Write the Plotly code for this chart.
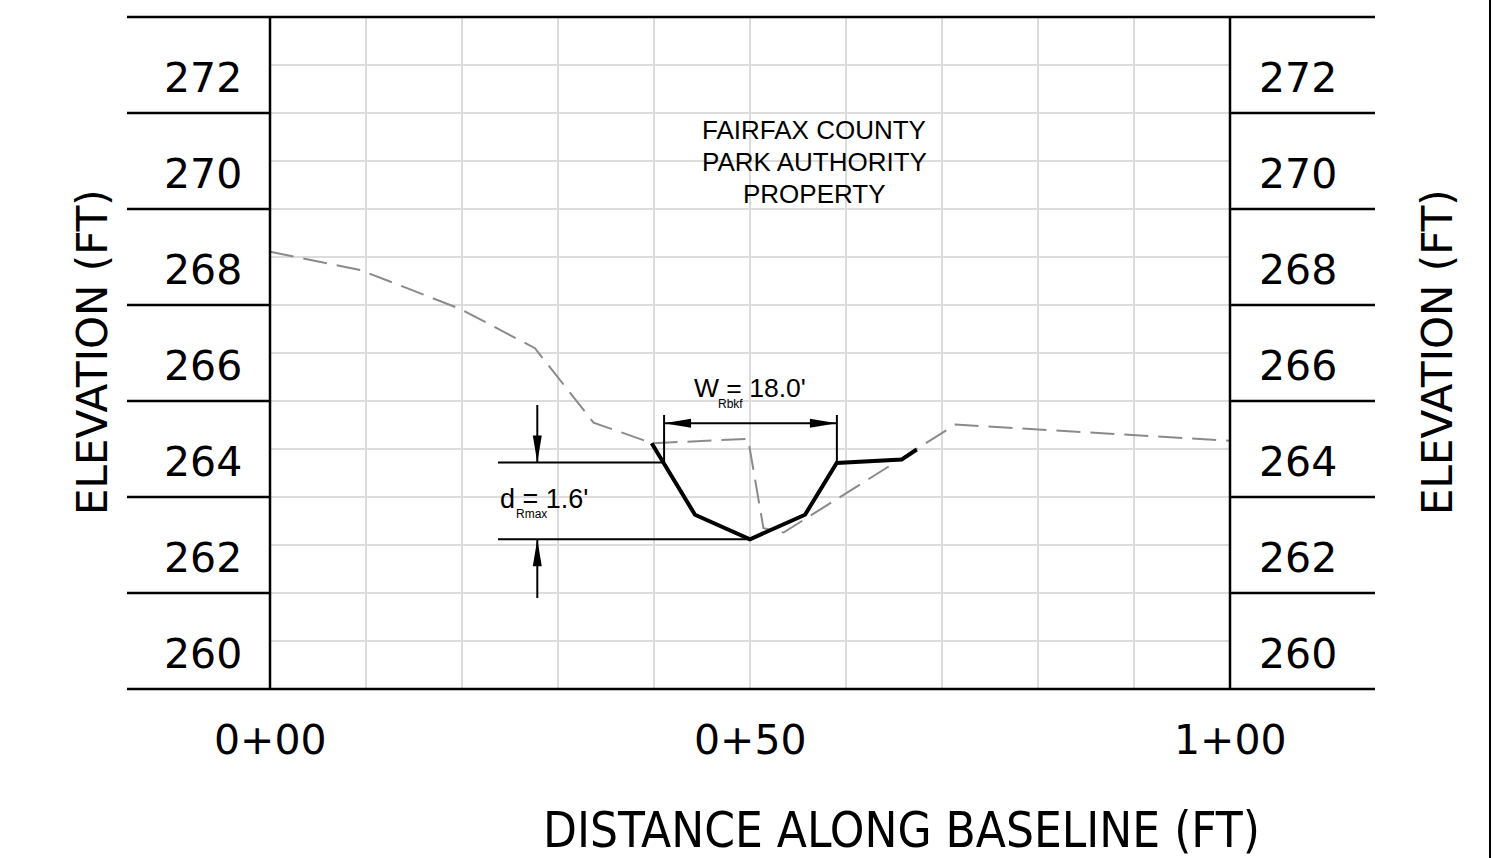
import plotly.graph_objects as go

# ---------------- data ----------------
station = [0, 9.4, 19.8, 27.6, 33.7, 39.8, 49.8, 51.4, 53.5, 71.4, 100]
existing_elev = [268.11, 267.73, 266.92, 266.10, 264.55, 264.12, 264.21, 262.35, 262.26, 264.51, 264.17]

prop_station = [39.76, 44.27, 50.0, 55.73, 59.03, 65.8, 67.36]
proposed_elev = [264.12, 262.63, 262.12, 262.63, 263.71, 263.78, 263.99]

x_tick_vals = [0, 50, 100]
x_tick_text = ["0+00", "0+50", "1+00"]
y_tick_vals = [260, 262, 264, 266, 268, 270, 272]
y_tick_text = ["260", "262", "264", "266", "268", "270", "272"]
frame_elev = [259, 261, 263, 265, 267, 269, 271, 273]

note_lines = ["FAIRFAX COUNTY", "PARK AUTHORITY", "PROPERTY"]
bkf_width = 18.0
d_rmax = 1.6
bkf_left = 41.05
thalweg_sta = 50.0
thalweg_elev = 262.12

# ---------------- layout geometry ----------------
W, H = 1500, 858
ML, MR, MT, MB = 270, 270, 17, 169
X0, X1 = 0, 100
Y0, Y1 = 259, 273
PW, PH = W - ML - MR, H - MT - MB
KX = PW / (X1 - X0)   # px per ft (x)
KY = PH / (Y1 - Y0)   # px per ft (y)


def pyp(e):
    return (e - Y0) / (Y1 - Y0)


def pxp(pixel):
    return (pixel - ML) / PW


def pyp_pix(pixel):
    return (MT + PH - pixel) / PH


def sta_of(pixel):
    return X0 + (pixel - ML) / KX


def elev_of(pixel):
    return Y0 + (MT + PH - pixel) / KY


BLACK = "#000000"
GRID = "#dcdcdc"
TICK_FONT = dict(family="DejaVu Sans", size=41, color=BLACK)
NOTE_FONT = "Liberation Sans, Arial"

fig = go.Figure()

fig.add_trace(go.Scatter(
    x=station, y=existing_elev, mode="lines",
    line=dict(color="#8a8a8a", width=2, dash="24px,10px"),
    hoverinfo="skip", showlegend=False))

fig.add_trace(go.Scatter(
    x=prop_station, y=proposed_elev, mode="lines",
    line=dict(color=BLACK, width=4), hoverinfo="skip", showlegend=False))

shapes = []
# frame horizontal lines (odd elevations) outside plot
for e in frame_elev:
    if e in (Y0, Y1):
        shapes.append(dict(type="line", xref="paper", yref="paper",
                           x0=pxp(127), x1=pxp(1375), y0=pyp(e), y1=pyp(e),
                           line=dict(color=BLACK, width=2.5)))
    else:
        shapes.append(dict(type="line", xref="paper", yref="paper",
                           x0=pxp(127), x1=0, y0=pyp(e), y1=pyp(e),
                           line=dict(color=BLACK, width=2.5)))
        shapes.append(dict(type="line", xref="paper", yref="paper",
                           x0=1, x1=pxp(1375), y0=pyp(e), y1=pyp(e),
                           line=dict(color=BLACK, width=2.5)))
# plot verticals
for xp in (0, 1):
    shapes.append(dict(type="line", xref="paper", yref="paper",
                       x0=xp, x1=xp, y0=0, y1=1,
                       line=dict(color=BLACK, width=2.5)))
# sheet border on right
shapes.append(dict(type="line", xref="paper", yref="paper",
                   x0=pxp(1490), x1=pxp(1490), y0=pyp_pix(H), y1=pyp_pix(0),
                   line=dict(color=BLACK, width=2)))

# ---- dimension: bankfull width ----
bkf_right = bkf_left + bkf_width
bkf_elev = thalweg_elev + d_rmax
w_line_elev = elev_of(423.3)
ext_top = elev_of(415)
for s in (bkf_left, bkf_right):
    shapes.append(dict(type="line", xref="x", yref="y", x0=s, x1=s,
                       y0=ext_top, y1=bkf_elev, line=dict(color=BLACK, width=2)))
shapes.append(dict(type="line", xref="x", yref="y", x0=bkf_left, x1=bkf_right,
                   y0=w_line_elev, y1=w_line_elev, line=dict(color=BLACK, width=2)))
AL, AHW = 27, 4.5  # arrowhead length / half-width in px
for tip, direction in ((bkf_left, 1), (bkf_right, -1)):
    bx = tip + direction * AL / KX
    hw = AHW / KY
    shapes.append(dict(type="path", xref="x", yref="y",
                       path=f"M {tip},{w_line_elev} L {bx},{w_line_elev + hw} L {bx},{w_line_elev - hw} Z",
                       fillcolor=BLACK, line=dict(color=BLACK, width=0)))

# ---- dimension: max depth ----
d_line_start = sta_of(498)
d_arrow_sta = sta_of(537.3)
shapes.append(dict(type="line", xref="x", yref="y", x0=d_line_start, x1=bkf_left,
                   y0=bkf_elev, y1=bkf_elev, line=dict(color=BLACK, width=2)))
shapes.append(dict(type="line", xref="x", yref="y", x0=d_line_start, x1=thalweg_sta,
                   y0=thalweg_elev, y1=thalweg_elev, line=dict(color=BLACK, width=2)))
top_tail = elev_of(405)
bot_tail = elev_of(598)
shapes.append(dict(type="line", xref="x", yref="y", x0=d_arrow_sta, x1=d_arrow_sta,
                   y0=top_tail, y1=bkf_elev, line=dict(color=BLACK, width=2)))
shapes.append(dict(type="line", xref="x", yref="y", x0=d_arrow_sta, x1=d_arrow_sta,
                   y0=bot_tail, y1=thalweg_elev, line=dict(color=BLACK, width=2)))
for tip, direction in ((bkf_elev, 1), (thalweg_elev, -1)):
    by = tip + direction * AL / KY
    hw = AHW / KX
    shapes.append(dict(type="path", xref="x", yref="y",
                       path=f"M {d_arrow_sta},{tip} L {d_arrow_sta - hw},{by} L {d_arrow_sta + hw},{by} Z",
                       fillcolor=BLACK, line=dict(color=BLACK, width=0)))

annotations = []
# y tick labels (both sides)
for v, t in zip(y_tick_vals, y_tick_text):
    annotations.append(dict(xref="paper", yref="y", x=0, y=v, text=t, showarrow=False,
                            xanchor="right", yanchor="middle", xshift=-26, yshift=-12.5,
                            font=TICK_FONT))
    annotations.append(dict(xref="paper", yref="y", x=1, y=v, text=t, showarrow=False,
                            xanchor="left", yanchor="middle", xshift=27, yshift=-12.5,
                            font=TICK_FONT))
# x tick labels
for v, t in zip(x_tick_vals, x_tick_text):
    annotations.append(dict(xref="x", yref="paper", x=v, y=0, text=t, showarrow=False,
                            xanchor="center", yanchor="middle", yshift=-51,
                            font=TICK_FONT))
# axis titles
annotations.append(dict(xref="paper", yref="paper", x=pxp(901), y=pyp_pix(830),
                        text="DISTANCE ALONG BASELINE (FT)", showarrow=False,
                        xanchor="center", yanchor="middle",
                        font=dict(family="DejaVu Sans Condensed, DejaVu Sans", size=49, color=BLACK)))
for xpix in (92, 1437):
    annotations.append(dict(xref="paper", yref="paper", x=pxp(xpix), y=pyp_pix(352),
                            text="ELEVATION (FT)", showarrow=False, textangle=-90,
                            xanchor="center", yanchor="middle",
                            font=dict(family="DejaVu Sans", size=42, color=BLACK)))
# note (one annotation per line for exact spacing)
for i, line in enumerate(note_lines):
    annotations.append(dict(xref="x", yref="y", x=sta_of(814), y=elev_of(130 + 32 * i),
                            text=line, showarrow=False,
                            xanchor="center", yanchor="middle",
                            font=dict(family=NOTE_FONT, size=26, color=BLACK)))
# dimension texts
annotations.append(dict(xref="x", yref="y", x=sta_of(692), y=elev_of(387.5),
                        text=f"W = {bkf_width:.1f}'", showarrow=False,
                        xanchor="left", yanchor="middle",
                        font=dict(family=NOTE_FONT, size=26.5, color=BLACK)))
annotations.append(dict(xref="x", yref="y", x=sta_of(730), y=elev_of(404),
                        text="Rbkf", showarrow=False, xanchor="center", yanchor="middle",
                        font=dict(family=NOTE_FONT, size=12, color=BLACK)))
annotations.append(dict(xref="x", yref="y", x=sta_of(498), y=elev_of(499),
                        text=f"d = {d_rmax:.1f}'", showarrow=False,
                        xanchor="left", yanchor="middle",
                        font=dict(family=NOTE_FONT, size=27, color=BLACK)))
annotations.append(dict(xref="x", yref="y", x=sta_of(531.5), y=elev_of(514),
                        text="Rmax", showarrow=False, xanchor="center", yanchor="middle",
                        font=dict(family=NOTE_FONT, size=12, color=BLACK)))

fig.update_layout(
    width=W, height=H,
    margin=dict(l=ML, r=MR, t=MT, b=MB, pad=0),
    paper_bgcolor="white", plot_bgcolor="white",
    showlegend=False,
    xaxis=dict(range=[X0, X1], tick0=0, dtick=10, showgrid=True, gridcolor=GRID,
               gridwidth=2, zeroline=False, showticklabels=False, ticks="",
               showline=False, fixedrange=True),
    yaxis=dict(range=[Y0, Y1], tick0=Y0, dtick=1, showgrid=True, gridcolor=GRID,
               gridwidth=2, zeroline=False, showticklabels=False, ticks="",
               showline=False, fixedrange=True),
    shapes=shapes,
    annotations=annotations,
)

fig.write_html("out.html",
               config={"displayModeBar": False},
               post_script="document.body.style.margin='0';document.body.style.overflow='hidden';")
